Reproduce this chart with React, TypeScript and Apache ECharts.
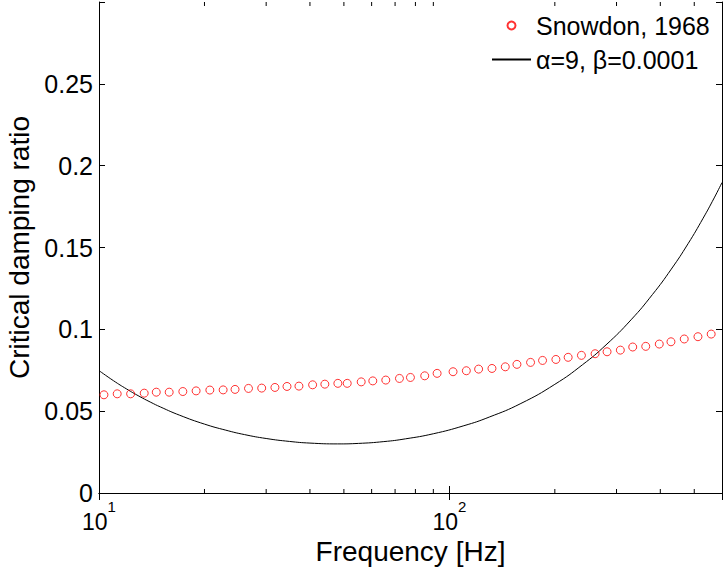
import React, { useEffect, useRef } from 'react';
import * as echarts from 'echarts';

const FONT = '"Liberation Sans", Arial, Helvetica, sans-serif';

// Snowdon, 1968 measured points (frequency in Hz, critical damping ratio)
const snowdonFreq = [10.33, 11.27, 12.31, 13.46, 14.57, 15.86, 17.35, 18.93, 20.72, 22.61, 24.45, 26.71, 29.13, 31.78, 34.4, 37.21, 40.71, 44.12, 48.06, 51.1, 56.02, 60.46, 65.85, 72.03, 77.42, 85.05, 92.26, 102.45, 111.8, 121.2, 132.3, 144.4, 155.9, 170.5, 184.5, 201.4, 218.3, 238.2, 260.6, 281.9, 307.6, 333.7, 363.5, 397.3, 429.0, 468.1, 512.3, 558.8];
const snowdonRatio = [0.06, 0.0606, 0.0606, 0.061, 0.0616, 0.0616, 0.062, 0.0624, 0.0629, 0.063, 0.0633, 0.0639, 0.0641, 0.0645, 0.0651, 0.0653, 0.0661, 0.0665, 0.067, 0.067, 0.0679, 0.0685, 0.069, 0.07, 0.0706, 0.0716, 0.0731, 0.0741, 0.0747, 0.0757, 0.0761, 0.0771, 0.0786, 0.0798, 0.081, 0.0816, 0.0829, 0.0841, 0.0851, 0.0863, 0.0873, 0.0892, 0.0896, 0.091, 0.0924, 0.0941, 0.0955, 0.0971];

// Model curve (alpha=9, beta=0.0001)
const modelFreq = [10, 11, 12, 13, 14, 15, 17, 20, 23, 26, 30, 35, 40, 48, 55, 65, 75, 90, 110, 130, 160, 200, 240, 280, 330, 380, 430, 480, 530, 570, 600];
const modelRatio = [0.0748, 0.0686, 0.0635, 0.0592, 0.0556, 0.0525, 0.0475, 0.0421, 0.0384, 0.0357, 0.0333, 0.0315, 0.0305, 0.03, 0.0303, 0.0314, 0.0331, 0.0362, 0.0411, 0.0464, 0.0547, 0.0664, 0.0784, 0.0905, 0.1058, 0.1213, 0.1368, 0.1523, 0.1679, 0.1803, 0.1897];

const minorTickFreq = [20, 30, 40, 50, 60, 70, 80, 90, 200, 300, 400, 500];
const yTicks = [0, 0.05, 0.1, 0.15, 0.2, 0.25];

const SERIES_A = 'Snowdon, 1968';
const SERIES_B = 'α=9, β=0.0001';

const X_MIN = 10;
const X_MAX = 600;
const Y_MIN = 0;
const Y_MAX = 0.3;

export default function App() {
  const ref = useRef<HTMLDivElement | null>(null);

  useEffect(() => {
    if (!ref.current) return;
    const chart = echarts.init(ref.current, undefined, { renderer: 'svg' });

    const xLabelFormatter = (v: number) => {
      const k = Math.round(Math.log10(v));
      if (Math.abs(v - Math.pow(10, k)) < 1e-6 * v && (k === 1 || k === 2)) {
        return `{b|10}{s|${k}}`;
      }
      return '';
    };

    const yLabelFormatter = (v: number) => {
      const r = Math.round(v * 100) / 100;
      return yTicks.some((t) => Math.abs(t - r) < 1e-9) ? String(r) : '';
    };

    const axisLine = { show: true, lineStyle: { color: '#000', width: 1 } };

    const option: any = {
      animation: false,
      backgroundColor: '#fff',
      grid: { left: 99, right: 2, top: 2, bottom: 74, containLabel: false, outerBoundsMode: 'none' },
      legend: {
        orient: 'vertical',
        left: 491,
        top: 13,
        padding: 0,
        itemWidth: 39,
        itemHeight: 8,
        itemGap: 9,
        data: [SERIES_A, { name: SERIES_B, itemStyle: { opacity: 0 } }],
        textStyle: { fontFamily: FONT, fontSize: 25, color: '#000' },
      },
      xAxis: [
        {
          type: 'log',
          logBase: 10,
          min: X_MIN,
          max: X_MAX,
          position: 'bottom',
          name: 'Frequency [Hz]',
          nameLocation: 'middle',
          nameGap: 27,
          nameTextStyle: { fontFamily: FONT, fontSize: 28, color: '#000' },
          axisLine,
          axisTick: { show: true, inside: true, length: 7, lineStyle: { color: '#000' } },
          splitLine: { show: false },
          minorTick: { show: false },
          axisLabel: {
            margin: 6,
            formatter: xLabelFormatter,
            rich: {
              b: { fontFamily: FONT, fontSize: 23, color: '#000', lineHeight: 34, verticalAlign: 'bottom' },
              s: { fontFamily: FONT, fontSize: 15, color: '#000', lineHeight: 14, verticalAlign: 'top' },
            },
          },
        },
        {
          type: 'log',
          logBase: 10,
          min: X_MIN,
          max: X_MAX,
          position: 'top',
          axisLine,
          axisTick: { show: true, inside: true, length: 7, lineStyle: { color: '#000' } },
          splitLine: { show: false },
          axisLabel: { show: false },
        },
      ],
      yAxis: [
        {
          type: 'value',
          min: Y_MIN,
          max: Y_MAX,
          interval: 0.05,
          position: 'left',
          name: 'Critical damping ratio',
          nameLocation: 'middle',
          nameGap: 57,
          nameTextStyle: { fontFamily: FONT, fontSize: 28, color: '#000' },
          axisLine,
          axisTick: { show: true, inside: true, length: 6, lineStyle: { color: '#000' } },
          splitLine: { show: false },
          axisLabel: { fontFamily: FONT, fontSize: 25, color: '#000', margin: 6, formatter: yLabelFormatter },
        },
        {
          type: 'value',
          min: Y_MIN,
          max: Y_MAX,
          interval: 0.05,
          position: 'right',
          axisLine,
          axisTick: { show: true, inside: true, length: 6, lineStyle: { color: '#000' } },
          splitLine: { show: false },
          axisLabel: { show: false },
        },
      ],
      series: [
        {
          name: SERIES_A,
          type: 'scatter',
          xAxisIndex: 0,
          yAxisIndex: 0,
          symbol: 'circle',
          symbolSize: 8,
          itemStyle: { color: 'rgba(0,0,0,0)', borderColor: '#ff0000', borderWidth: 1 },
          data: snowdonFreq.map((f, i) => [f, snowdonRatio[i]]),
          z: 3,
        },
        {
          name: SERIES_B,
          type: 'line',
          xAxisIndex: 0,
          yAxisIndex: 0,
          symbol: 'none',
          showSymbol: false,
          smooth: true,
          lineStyle: { color: '#000', width: 1 },
          itemStyle: { color: '#000' },
          data: modelFreq.map((f, i) => [f, modelRatio[i]]),
          z: 2,
        },
        {
          name: 'minorTicks',
          type: 'custom',
          xAxisIndex: 0,
          yAxisIndex: 0,
          silent: true,
          data: minorTickFreq.map((f) => [f, 0]),
          encode: { x: 0, y: 1 },
          renderItem: (_params: any, api: any) => {
            const f = api.value(0);
            const b = api.coord([f, Y_MIN]);
            const t = api.coord([f, Y_MAX]);
            return {
              type: 'group',
              children: [
                { type: 'line', shape: { x1: b[0], y1: b[1], x2: b[0], y2: b[1] - 4 }, style: { stroke: '#000', lineWidth: 1 } },
                { type: 'line', shape: { x1: t[0], y1: t[1], x2: t[0], y2: t[1] + 4 }, style: { stroke: '#000', lineWidth: 1 } },
              ],
            };
          },
        },
      ],
    };

    chart.setOption(option);
    return () => {
      chart.dispose();
    };
  }, []);

  return (
    <div
      ref={ref}
      style={{ position: 'fixed', left: 0, top: 0, width: 724, height: 567, background: '#fff' }}
    />
  );
}
